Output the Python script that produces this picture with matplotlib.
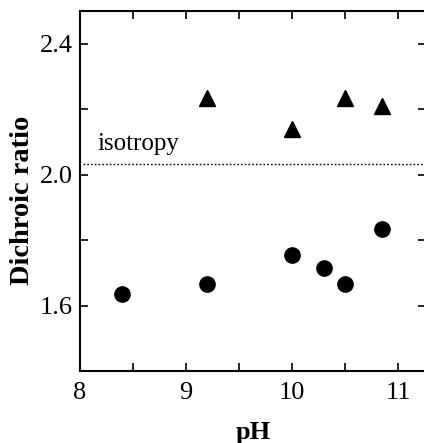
import numpy as np
import matplotlib
matplotlib.use('Agg')
import matplotlib.pyplot as plt

# Data
ph_tri = [9.2, 10.0, 10.5, 10.85]
ratio_tri = [2.233, 2.14, 2.233, 2.21]

ph_circ = [8.4, 9.2, 10.0, 10.3, 10.5, 10.85]
ratio_circ = [1.635, 1.666, 1.755, 1.715, 1.666, 1.835]

isotropy = 2.034

plt.rcParams['font.family'] = ['Liberation Serif', 'DejaVu Serif']

fig = plt.figure(figsize=(4.24, 4.43), dpi=100)
ax = fig.add_axes([80 / 424, 1 - 371 / 443, 346 / 424, 360 / 443])

ax.plot(ph_tri, ratio_tri, '^', color='black', markersize=12, clip_on=False)
ax.plot(ph_circ, ratio_circ, 'o', color='black', markersize=11, clip_on=False)

# isotropy reference line
ax.axhline(isotropy, xmin=0.01, color='black', linestyle=(0, (1.2, 1.5)), linewidth=1.0)
ax.text(8.16, isotropy + 0.04, 'isotropy', fontsize=18)

ax.set_xlim(8, 11.26)
ax.set_ylim(1.4, 2.5)
ax.set_xticks([8, 9, 10, 11])
ax.set_xticks([8.5, 9.5, 10.5], minor=True)
ax.set_yticks([1.6, 2.0, 2.4])
ax.set_yticks([1.8, 2.2], minor=True)
ax.set_yticklabels(['1.6', '2.0', '2.4'])

ax.tick_params(axis='both', which='both', direction='in', top=True, right=True,
               labelsize=19, width=1.2)
ax.tick_params(axis='both', which='major', length=6)
ax.tick_params(axis='both', which='minor', length=6)
ax.tick_params(axis='x', pad=8)
ax.tick_params(axis='y', pad=5)

for s in ax.spines.values():
    s.set_linewidth(1.5)

ax.set_xlabel('pH', fontsize=19, fontweight='bold', labelpad=12)
ax.set_ylabel('Dichroic ratio', fontsize=20.5, fontweight='bold')
ax.yaxis.set_label_coords(-0.13, 0.475)

fig.savefig('out.png', dpi=100)
